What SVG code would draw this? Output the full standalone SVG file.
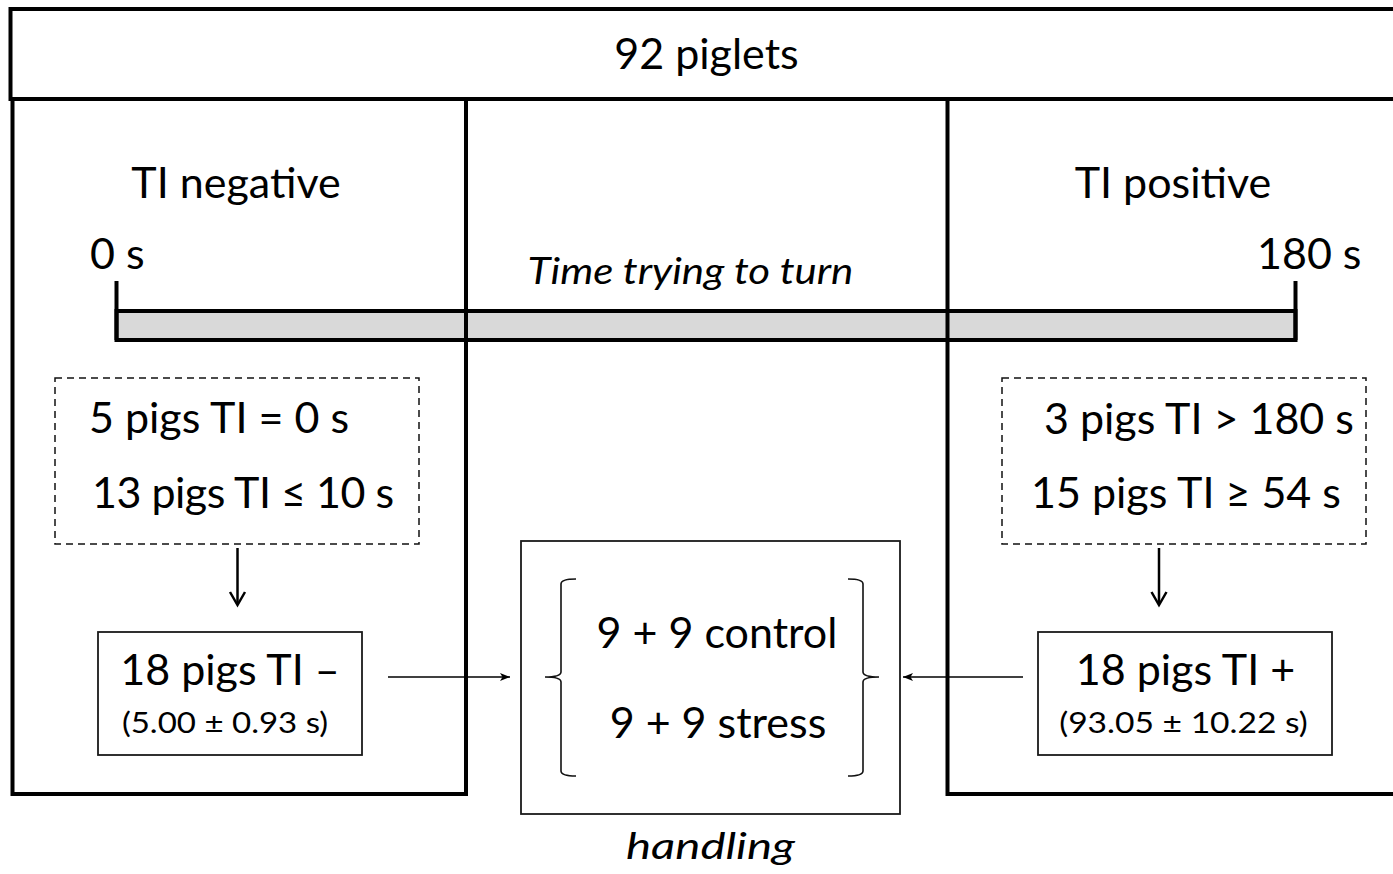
<svg xmlns="http://www.w3.org/2000/svg" width="1393" height="874" viewBox="0 0 1393 874">
<defs>
<style>
text{font-family:Lato,"Open Sans","Liberation Sans",sans-serif;fill:#000}
.big{font-size:43px}
.it{font-size:37px;font-style:italic}
.small{font-size:28px}
.panel{fill:none;stroke:#000;stroke-width:4}
.box{fill:#fff;stroke:#1a1a1a;stroke-width:1.8}
.dash{fill:none;stroke:#111;stroke-width:1.5;stroke-dasharray:7 5}
.thin{fill:none;stroke:#000;stroke-width:1.6}
.brace{fill:none;stroke:#111;stroke-width:1.6}
</style>
<marker id="ah" viewBox="0 0 10 8" refX="10" refY="4" markerWidth="10" markerHeight="8" markerUnits="userSpaceOnUse" orient="auto">
<path d="M0,0 L10,4 L0,8 L2.5,4 Z" fill="#000"/>
</marker>
</defs>
<rect width="1393" height="874" fill="#fff"/>
<g id="timeline">
<rect x="116.5" y="311" width="1179" height="29" fill="#d9d9d9" stroke="#000" stroke-width="4"/>
<line x1="116.5" y1="281" x2="116.5" y2="340" stroke="#000" stroke-width="4"/>
<line x1="1295.5" y1="281" x2="1295.5" y2="340" stroke="#000" stroke-width="4"/>
</g>
<g id="top-box">
<path class="panel" d="M1400,9 H10.5 V99 H1400"/>
<text class="big" x="706.5" y="69" text-anchor="middle">92 piglets</text>
</g>
<g id="ti-negative-panel">
<path class="panel" d="M12.5,99 V794 H466 V99"/>
<text class="big" x="236" y="198" text-anchor="middle">TI negative</text>
<text class="big" x="90" y="269">0 s</text>
</g>
<g id="ti-positive-panel">
<path class="panel" d="M947.5,99 V794 H1400"/>
<text class="big" x="1173" y="198" text-anchor="middle">TI positive</text>
<text class="big" x="1257" y="269">180 s</text>
</g>
<g id="timeline-label">
<text class="it" transform="translate(690.5,284) scale(1.135,1)" text-anchor="middle">Time trying to turn</text>
</g>
<g id="neg-detail">
<rect class="dash" x="55" y="378" width="364" height="166"/>
<text class="big" x="89" y="433">5 pigs TI = 0 s</text>
<text class="big" x="92" y="508" textLength="302" lengthAdjust="spacing">13 pigs TI ≤ 10 s</text>
</g>
<g id="pos-detail">
<rect class="dash" x="1002" y="378" width="364" height="166"/>
<text class="big" x="1044" y="434">3 pigs TI &gt; 180 s</text>
<text class="big" x="1031" y="508">15 pigs TI ≥ 54 s</text>
</g>
<g id="neg-group">
<rect class="box" x="98" y="632" width="264" height="123"/>
<text class="big" x="230" y="685" text-anchor="middle">18 pigs TI –</text>
<text class="small" transform="translate(225,733) scale(1.18,1)" text-anchor="middle">(5.00 ± 0.93 s)</text>
</g>
<g id="pos-group">
<rect class="box" x="1038" y="632" width="294" height="123"/>
<text class="big" x="1185.5" y="685" text-anchor="middle">18 pigs TI +</text>
<text class="small" transform="translate(1183.5,733) scale(1.2,1)" text-anchor="middle">(93.05 ± 10.22 s)</text>
</g>
<g id="handling">
<rect class="box" x="521" y="541" width="379" height="273"/>
<path class="brace" d="M576,579 Q561,579 561,584 V672 Q561,677 545,677 Q561,677 561,682 V771 Q561,776 576,776"/>
<path class="brace" d="M848,579 Q863,579 863,584 V672 Q863,677 879,677 Q863,677 863,682 V771 Q863,776 848,776"/>
<text class="big" x="717" y="648" text-anchor="middle">9 + 9 control</text>
<text class="big" x="718" y="738" text-anchor="middle">9 + 9 stress</text>
<text class="it" transform="translate(710.5,859) scale(1.28,1)" text-anchor="middle">handling</text>
</g>
<g id="connectors">
<line class="thin" x1="388" y1="677" x2="510" y2="677" marker-end="url(#ah)"/>
<line class="thin" x1="1023" y1="677" x2="903" y2="677" marker-end="url(#ah)"/>
<line x1="237.5" y1="548" x2="237.5" y2="604" stroke="#000" stroke-width="2.5"/>
<polyline points="230,592 237.5,605 245,592" fill="none" stroke="#000" stroke-width="2.5"/>
<line x1="1159" y1="548" x2="1159" y2="604" stroke="#000" stroke-width="2.5"/>
<polyline points="1151.5,592 1159,605 1166.5,592" fill="none" stroke="#000" stroke-width="2.5"/>
</g>
</svg>
